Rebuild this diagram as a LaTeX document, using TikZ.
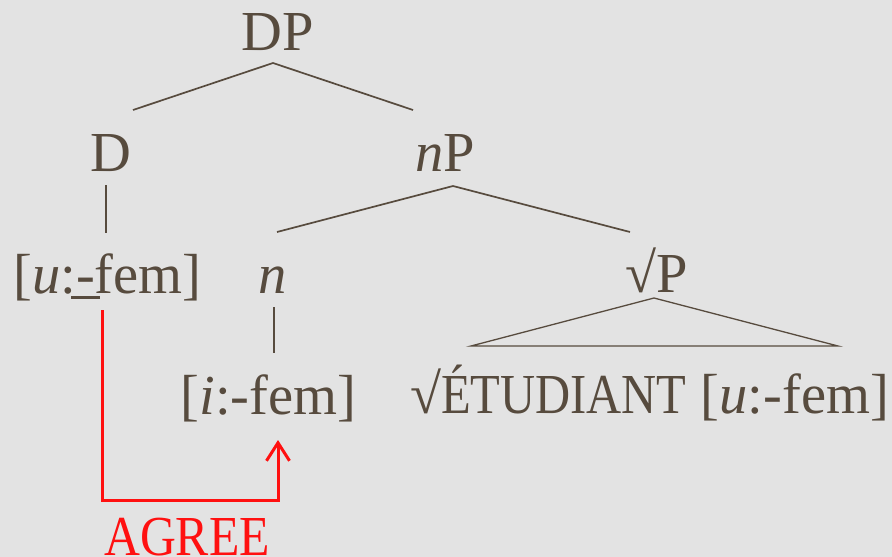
\documentclass[tikz,border=0pt]{standalone}
\usepackage{fontspec}
\setmainfont{Liberation Serif}
\usetikzlibrary{arrows.meta}
\definecolor{paper}{HTML}{E3E3E3}
\definecolor{ink}{HTML}{574B3E}
\definecolor{agreered}{HTML}{FF1010}
\newcommand{\ulhyph}{\rlap{\kern-0.085em\rule[-0.1em]{0.5em}{0.04em}}-}
\begin{document}
\begin{tikzpicture}[x=1pt,y=-1pt,
  lbl/.style={anchor=base,inner sep=0pt,text=ink,font=\fontsize{56.5}{60}\selectfont},
  branch/.style={draw=ink,line width=1.7pt},
  agreeline/.style={draw=agreered,line width=3pt,line join=miter,
    -{Straight Barb[length=18pt,width=23pt,line width=3pt]}}]
  % page and backdrop
  \fill[paper] (0,0) rectangle (892,557);
  \useasboundingbox (0,0) rectangle (892,557);

  % labels of the tree
  \node[lbl] (dp)    at (278,50)    {DP};
  \node[lbl] (d)     at (111,171)   {D};
  \node[lbl] (np)    at (445,171)   {\textit{n}P};
  \node[lbl] (ufem)  at (107.5,293) {[\textit{u}:\ulhyph fem]};
  \node[lbl] (n)     at (273,293)   {\textit{n}};
  \node[lbl] (rootp) at (657,292)   {√P};
  \node[lbl] (ifem)  at (268.5,414) {[\textit{i}:-fem]};
  \node[lbl] (etud)  at (649.5,413) {√\scalebox{0.86}[1]{ÉTUDIANT} [\textit{u}:-fem]};
  \node[lbl,text=agreered] (agree) at (187,555) {\scalebox{0.88}[1]{AGREE}};

  % branch points
  \coordinate (dptop)  at (273,63);
  \coordinate (dpl)    at (133,110);
  \coordinate (dpr)    at (413,110);
  \coordinate (dtop)   at (106,185);
  \coordinate (dbot)   at (106,233);
  \coordinate (nptop)  at (453,186);
  \coordinate (npl)    at (277,232);
  \coordinate (npr)    at (630,232);
  \coordinate (rptop)  at (654,298);
  \coordinate (rpl)    at (471,346);
  \coordinate (rpr)    at (838,346);
  \coordinate (ntop)   at (274,307);
  \coordinate (nbot)   at (274,353);

  % tree edges
  \draw[branch] (dpl) -- (dptop) -- (dpr);
  \draw[branch] (dtop) -- (dbot);
  \draw[branch] (npl) -- (nptop) -- (npr);
  \draw[branch,line width=1.3pt] (rptop) -- (rpl) -- (rpr) -- cycle;
  \draw[branch] (ntop) -- (nbot);

  % agreement path from the probe to the goal
  \coordinate (probe) at (102,310);
  \coordinate (goal)  at (278,440);
  \draw[agreeline] (probe) |- (187,500) -| (goal);
\end{tikzpicture}
\end{document}
